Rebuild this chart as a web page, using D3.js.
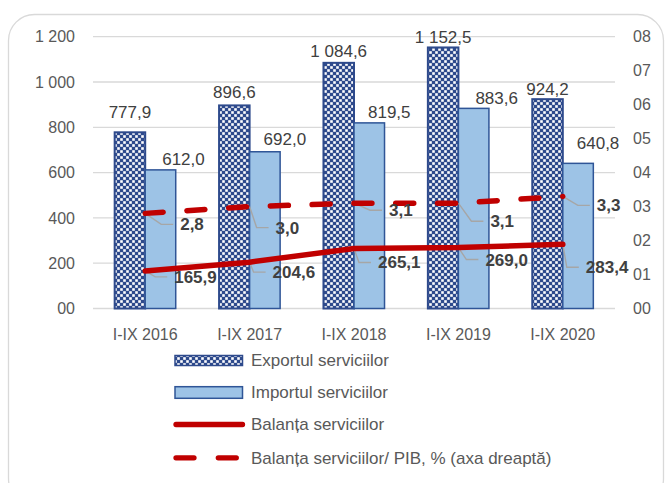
<!DOCTYPE html>
<html>
<head>
<meta charset="utf-8">
<script src="https://cdn.jsdelivr.net/npm/d3@7/dist/d3.min.js"></script>
<style>
  html, body { margin: 0; padding: 0; background: #ffffff; }
  svg { display: block; font-family: "Liberation Sans", Arial, sans-serif; }
</style>
</head>
<body>
<svg id="chart" width="666" height="483"></svg>
<script>
// Periods (categories)
const periods = ["I-IX 2016", "I-IX 2017", "I-IX 2018", "I-IX 2019", "I-IX 2020"];

// Services trade, mil. USD
const exportValues = [777.9, 896.6, 1084.6, 1152.5, 924.2];
const importValues = [612.0, 692.0, 819.5, 883.6, 640.8];
const balanceValues = [165.9, 204.6, 265.1, 269.0, 283.4];

// Balance of services as % of GDP (right axis)
const balanceGdpValues = [2.8, 3.0, 3.1, 3.1, 3.3];

// Axis tick labels
const leftTicks = [0, 200, 400, 600, 800, 1000, 1200];
const leftTickLabels = ["00", "200", "400", "600", "800", "1 000", "1 200"];
const rightTicks = [0, 1, 2, 3, 4, 5, 6, 7, 8];
const rightTickLabels = ["00", "01", "02", "03", "04", "05", "06", "07", "08"];

// Legend entries
const legendLabels = [
  "Exportul serviciilor",
  "Importul serviciilor",
  "Balanța serviciilor",
  "Balanța serviciilor/ PIB, % (axa dreaptă)"
];

// Hand placement of data labels (pixels)
const exportLabelLift = [20, 13, 12, 10, 10];
const importLabelLift = [11, 13, 11, 10, 20];
const importLabelShift = [23, 20, 20, 23, 20];
const balanceLabelShift = [[29, 6], [23, 10], [24, 14], [27, 12], [23, 23]];
const gdpLabelShift = [[35, 11], [26, 21], [35, 7], [32, 18], [34, 9]];

const RED = "#C00000";
const NAVY = "#2E4A8C";
const TEXT = "#595959";
const LABEL = "#404040";

const fmt = d3.formatLocale({ decimal: ",", thousands: " ", grouping: [3], currency: ["", ""] }).format(",.1f");

const svg = d3.select("#chart");

// Outer rounded frame
svg.append("rect")
  .attr("x", 8.5).attr("y", 14.5)
  .attr("width", 655).attr("height", 490)
  .attr("rx", 26).attr("ry", 26)
  .attr("fill", "#ffffff")
  .attr("stroke", "#d9d9d9").attr("stroke-width", 1.3);

// Checkered fill for exports
const defs = svg.append("defs");
const pat = defs.append("pattern")
  .attr("id", "checker")
  .attr("patternUnits", "userSpaceOnUse")
  .attr("width", 6).attr("height", 6);
pat.append("rect").attr("width", 6).attr("height", 6).attr("fill", NAVY);
pat.append("rect").attr("x", 0.2).attr("y", 0.2).attr("width", 2.6).attr("height", 2.6).attr("fill", "#ffffff");
pat.append("rect").attr("x", 3.2).attr("y", 3.2).attr("width", 2.6).attr("height", 2.6).attr("fill", "#ffffff");

// Scales
const x = d3.scaleBand().domain(periods).range([93, 615]).padding(0);
const sub = d3.scaleBand().domain(["exp", "imp"]).range([0, x.bandwidth()])
  .paddingInner(0).paddingOuter(0.71);
const y = d3.scaleLinear().domain([0, 1200]).range([308.5, 36.7]);
const y2 = d3.scaleLinear().domain([0, 8]).range([308.5, 36.7]);

// Gridlines
svg.append("g")
  .selectAll("line")
  .data(leftTicks)
  .join("line")
  .attr("x1", 93).attr("x2", 615)
  .attr("y1", d => y(d)).attr("y2", d => y(d))
  .attr("stroke", "#d9d9d9").attr("stroke-width", 1.3);

// Left axis
const leftAxis = svg.append("g")
  .attr("transform", "translate(93,0)")
  .call(d3.axisLeft(y).tickValues(leftTicks).tickSize(0).tickPadding(18)
    .tickFormat((d, i) => leftTickLabels[i]));
leftAxis.select(".domain").remove();
leftAxis.selectAll("text").attr("fill", TEXT).style("font-size", "16px")
  .style("font-family", "'Liberation Sans', Arial, sans-serif");

// Right axis
const rightAxis = svg.append("g")
  .attr("transform", "translate(615,0)")
  .call(d3.axisRight(y2).tickValues(rightTicks).tickSize(0).tickPadding(18)
    .tickFormat((d, i) => rightTickLabels[i]));
rightAxis.select(".domain").remove();
rightAxis.selectAll("text").attr("fill", TEXT).style("font-size", "16px")
  .style("font-family", "'Liberation Sans', Arial, sans-serif");

// Bottom axis
const bottomAxis = svg.append("g")
  .attr("transform", "translate(0,308.5)")
  .call(d3.axisBottom(x).tickSize(0).tickPadding(20));
bottomAxis.select(".domain").remove();
bottomAxis.selectAll("text").attr("fill", TEXT).style("font-size", "16px")
  .style("font-family", "'Liberation Sans', Arial, sans-serif");

// Export bars
svg.append("g")
  .selectAll("rect")
  .data(exportValues)
  .join("rect")
  .attr("x", (d, i) => x(periods[i]) + sub("exp"))
  .attr("y", d => y(d))
  .attr("width", sub.bandwidth())
  .attr("height", d => y(0) - y(d))
  .attr("fill", "url(#checker)")
  .attr("stroke", NAVY).attr("stroke-width", 2);

// Import bars
svg.append("g")
  .selectAll("rect")
  .data(importValues)
  .join("rect")
  .attr("x", (d, i) => x(periods[i]) + sub("imp"))
  .attr("y", d => y(d))
  .attr("width", sub.bandwidth())
  .attr("height", d => y(0) - y(d))
  .attr("fill", "#9DC3E6")
  .attr("stroke", "#2F5597").attr("stroke-width", 1.5);

// Bar value labels
svg.append("g")
  .selectAll("text")
  .data(exportValues)
  .join("text")
  .attr("x", (d, i) => x(periods[i]) + sub("exp") + sub.bandwidth() / 2)
  .attr("y", (d, i) => y(d) - exportLabelLift[i])
  .attr("dy", "0.35em")
  .attr("text-anchor", "middle")
  .attr("fill", LABEL).style("font-size", "17px")
  .text(d => fmt(d));

svg.append("g")
  .selectAll("text")
  .data(importValues)
  .join("text")
  .attr("x", (d, i) => x(periods[i]) + sub("imp") + sub.bandwidth() / 2 + importLabelShift[i])
  .attr("y", (d, i) => y(d) - importLabelLift[i])
  .attr("dy", "0.35em")
  .attr("text-anchor", "middle")
  .attr("fill", LABEL).style("font-size", "17px")
  .text(d => fmt(d));

const cx = i => x(periods[i]) + x.bandwidth() / 2;

// Leader lines for the line-series labels
function leaders(values, scale, shifts) {
  svg.append("g")
    .selectAll("path")
    .data(values)
    .join("path")
    .attr("d", (d, i) => {
      const px = cx(i), py = scale(d);
      const lx = px + shifts[i][0], ly = py + shifts[i][1];
      return `M${px},${py}L${lx - 19},${ly}L${lx - 7},${ly}`;
    })
    .attr("fill", "none")
    .attr("stroke", "#a6a6a6").attr("stroke-width", 1.4);
}
leaders(balanceValues, y, balanceLabelShift);
leaders(balanceGdpValues, y2, gdpLabelShift);

// Balance line
svg.append("path")
  .datum(balanceValues)
  .attr("d", d3.line().x((d, i) => cx(i)).y(d => y(d)))
  .attr("fill", "none")
  .attr("stroke", RED).attr("stroke-width", 5.5)
  .attr("stroke-linecap", "round");

// Balance / GDP dashed line
svg.append("path")
  .datum(balanceGdpValues)
  .attr("d", d3.line().x((d, i) => cx(i)).y(d => y2(d)))
  .attr("fill", "none")
  .attr("stroke", RED).attr("stroke-width", 5.5)
  .attr("stroke-linecap", "round")
  .attr("stroke-dasharray", "18 23.8");

// Line-series value labels (bold)
function pointLabels(values, scale, shifts) {
  svg.append("g")
    .selectAll("text")
    .data(values)
    .join("text")
    .attr("x", (d, i) => cx(i) + shifts[i][0])
    .attr("y", (d, i) => scale(d) + shifts[i][1])
    .attr("dy", "0.35em")
    .attr("fill", LABEL).style("font-size", "17px").style("font-weight", "bold")
    .text(d => fmt(d));
}
pointLabels(balanceValues, y, balanceLabelShift);
pointLabels(balanceGdpValues, y2, gdpLabelShift);

// Legend
const legend = svg.append("g");
const legendY = [360.5, 392.5, 424.5, 457.8];
legend.append("rect")
  .attr("x", 175).attr("y", legendY[0] - 5).attr("width", 67.5).attr("height", 10)
  .attr("fill", "url(#checker)").attr("stroke", NAVY).attr("stroke-width", 1.5);
legend.append("rect")
  .attr("x", 175).attr("y", legendY[1] - 5.8).attr("width", 67.5).attr("height", 11.6)
  .attr("fill", "#9DC3E6").attr("stroke", "#2F5597").attr("stroke-width", 1.5);
legend.append("line")
  .attr("x1", 176).attr("x2", 242.5).attr("y1", legendY[2]).attr("y2", legendY[2])
  .attr("stroke", RED).attr("stroke-width", 5.3).attr("stroke-linecap", "round");
legend.append("line")
  .attr("x1", 176).attr("x2", 242.5).attr("y1", legendY[3]).attr("y2", legendY[3])
  .attr("stroke", RED).attr("stroke-width", 5.3).attr("stroke-linecap", "round")
  .attr("stroke-dasharray", "18 24.3");
legend.selectAll("text")
  .data(legendLabels)
  .join("text")
  .attr("x", 251)
  .attr("y", (d, i) => legendY[i])
  .attr("dy", "0.35em")
  .attr("fill", TEXT).style("font-size", "17px")
  .text(d => d);
</script>
</body>
</html>
